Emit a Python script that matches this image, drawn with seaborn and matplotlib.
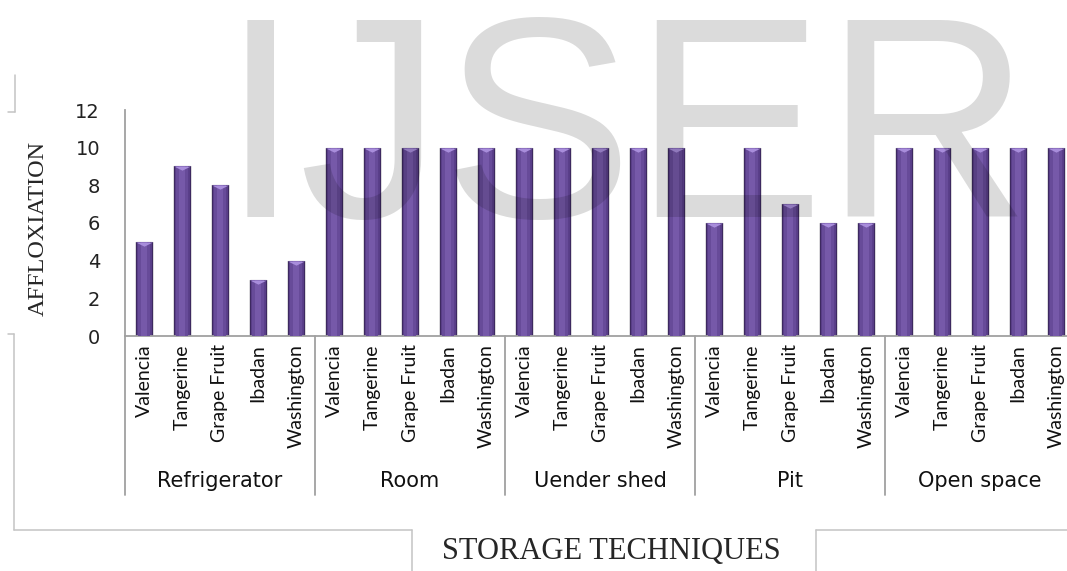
import numpy as np
import pandas as pd
import matplotlib
matplotlib.use("Agg")
import matplotlib.pyplot as plt
from matplotlib.lines import Line2D
import seaborn as sns

# values
storage = ["Refrigerator", "Room", "Uender shed", "Pit", "Open space"]
fruits = ["Valencia", "Tangerine", "Grape Fruit", "Ibadan", "Washington"]
refrigerator = [5, 9, 8, 3, 4]
room = [10, 10, 10, 10, 10]
under_shed = [10, 10, 10, 10, 10]
pit = [6, 10, 7, 6, 6]
open_space = [10, 10, 10, 10, 10]
yticks = [0, 2, 4, 6, 8, 10, 12]

rows = []
for s, vals in zip(storage, [refrigerator, room, under_shed, pit, open_space]):
    for f, v in zip(fruits, vals):
        rows.append({"storage": s, "fruit": f, "key": s + " | " + f, "value": v})
df = pd.DataFrame(rows)
order = list(df["key"])

sns.set_style("white")
W, H = 1067, 571
fig = plt.figure(figsize=(W / 100, H / 100), dpi=100)
ax = fig.add_axes([125 / W, 1 - 336 / H, 950 / W, 226 / H])

# shadow, body, inner highlight, top bevel
sns.barplot(x="key", y="value", data=df, order=order, width=0.5,
            color="#e4e4e4", saturation=1, linewidth=0, ax=ax, zorder=1)
sns.barplot(x="key", y="value", data=df, order=order, width=0.43,
            color="#5a3f8a", saturation=1, edgecolor="#3d2960", linewidth=0.8,
            ax=ax, zorder=2)
sns.barplot(x="key", y="value", data=df, order=order, width=0.3,
            color="#674b99", saturation=1, linewidth=0, ax=ax, zorder=3)
sns.barplot(x="key", y="value", data=df, order=order, width=0.16,
            color="#7659a9", saturation=1, linewidth=0, ax=ax, zorder=3)
tri = [(-1, 0), (1, 0), (0, -0.5)]
sns.stripplot(x="key", y="value", data=df, order=order, jitter=False,
              marker=tri, size=12, color="#a88ddb", linewidth=0, ax=ax, zorder=4)

ax.set_xlim(-0.5, len(df) - 0.5)
ax.set_ylim(0, 12)
ax.set_yticks(yticks)
ax.set_yticklabels([str(t) for t in yticks], fontsize=14, color="#222222",
                   fontfamily="DejaVu Sans")
ax.tick_params(axis="y", length=0, pad=18)
ax.set_xticks(np.arange(len(df)))
ax.set_xticklabels(df["fruit"], rotation=90, fontsize=14, fontfamily="Lato",
                   va="top", ha="center", color="#111111")
ax.tick_params(axis="x", length=0, pad=6)
ax.set_xlabel("")
ax.set_ylabel("")
for side in ["top", "right"]:
    ax.spines[side].set_visible(False)
for side in ["left", "bottom"]:
    ax.spines[side].set_color("#a0a0a0")
    ax.spines[side].set_linewidth(1.3)

# group separators and group labels below the axis
trans = ax.get_xaxis_transform()
for i in range(len(storage) + 1):
    ax.plot([i * 5 - 0.5, i * 5 - 0.5], [0, -0.7035], transform=trans,
            color="#a0a0a0", lw=1.3, clip_on=False)
for i, s in enumerate(storage):
    ax.text(i * 5 + 2, -0.6416, s, transform=trans, ha="center", va="center",
            fontsize=15, fontfamily="DejaVu Sans", color="#111111")

# axis titles
fig.text(38 / W, 1 - 228 / H, "AFFLOXIATION", rotation=90, ha="center",
         va="center", fontsize=17.5, fontfamily="Liberation Serif")
fig.text(611 / W, 1 - 551 / H, "STORAGE TECHNIQUES", ha="center", va="center",
         fontsize=22, fontfamily="Liberation Serif")

# light frame fragments around the chart area
frame = [
    ([15, 15], [75, 112]), ([8, 15], [112, 112]),
    ([8, 14], [334, 334]), ([14, 14], [334, 530]),
    ([14, 412], [530, 530]), ([412, 412], [530, 571]),
    ([816, 816], [530, 571]), ([816, 1067], [530, 530]),
]
for xs, ys in frame:
    fig.add_artist(Line2D([x / W for x in xs], [1 - y / H for y in ys],
                          transform=fig.transFigure, color="#c4c4c4", lw=1.1))

# watermark
fig.text(221 / W, 1 - 217 / H, "IJSER", ha="left", va="baseline",
         fontsize=206, fontfamily="Liberation Sans", color="black",
         alpha=0.14, zorder=10)

fig.savefig("out.png", dpi=100)
